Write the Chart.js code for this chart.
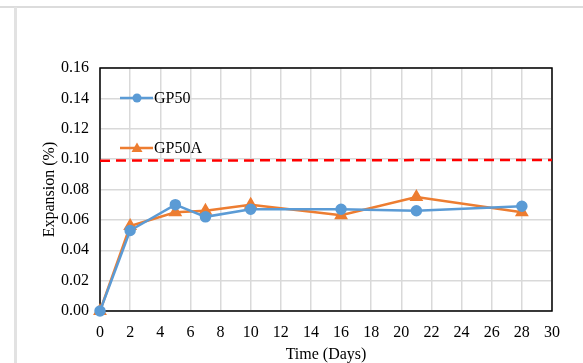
<!DOCTYPE html>
<html>
<head>
<title>Expansion</title>
<script src="https://cdn.jsdelivr.net/npm/chart.js"></script>
<style>
  body { margin: 0; background: #fff; }
  #wrap { position: relative; width: 583px; height: 363px; }
  .hline { position: absolute; left: 0; top: 6px; width: 583px; height: 2px; background: #dcdcdc; }
  .vline { position: absolute; left: 14px; top: 7px; width: 3px; height: 356px; background: #e2e2e2; }
  canvas { position: absolute; left: 0; top: 0; }
</style>
</head>
<body>
<div id="wrap">
  <div class="hline"></div>
  <div class="vline"></div>
  <canvas id="chart" width="583" height="363"></canvas>
</div>
<script>
  const days = [0, 2, 5, 7, 10, 16, 21, 28];
  const gp50 = [0, 0.053, 0.070, 0.062, 0.067, 0.067, 0.066, 0.069];
  const gp50a = [0, 0.056, 0.065, 0.066, 0.070, 0.063, 0.075, 0.065];
  const limitX = [0, 30];
  const limitY = [0.099, 0.0995];

  const BLUE = '#5B9BD5';
  const ORANGE = '#ED7D31';
  const FONT = "'Liberation Serif', 'Times New Roman', serif";

  const toPoints = (xs, ys) => xs.map((x, i) => ({ x: x, y: ys[i] }));

  // legend drawn inside the plot, like the original
  const innerLegend = {
    id: 'innerLegend',
    afterDatasetsDraw(chart) {
      const ctx = chart.ctx;
      const items = [
        { ds: chart.data.datasets[0], y: 98 },
        { ds: chart.data.datasets[1], y: 148 }
      ];
      ctx.save();
      items.forEach(it => {
        ctx.strokeStyle = it.ds.borderColor;
        ctx.lineWidth = 2.5;
        ctx.beginPath();
        ctx.moveTo(120, it.y);
        ctx.lineTo(153, it.y);
        ctx.stroke();
        ctx.fillStyle = it.ds.backgroundColor;
        ctx.beginPath();
        if (it.ds.pointStyle === 'triangle') {
          ctx.moveTo(137, it.y - 5.5);
          ctx.lineTo(142.5, it.y + 4);
          ctx.lineTo(131.5, it.y + 4);
          ctx.closePath();
        } else {
          ctx.arc(137, it.y, 4.5, 0, Math.PI * 2);
        }
        ctx.fill();
        ctx.fillStyle = '#000';
        ctx.font = '16px ' + FONT;
        ctx.textBaseline = 'middle';
        ctx.fillText(it.ds.label, 154, it.y + 1);
      });
      ctx.restore();
    }
  };

  // black frame around the plot area
  const frame = {
    id: 'frame',
    beforeDatasetsDraw(chart) {
      const a = chart.chartArea;
      const ctx = chart.ctx;
      ctx.save();
      ctx.strokeStyle = '#000';
      ctx.lineWidth = 1.5;
      ctx.strokeRect(a.left, a.top, a.right - a.left, a.bottom - a.top);
      ctx.restore();
    }
  };

  new Chart(document.getElementById('chart'), {
    type: 'line',
    data: {
      datasets: [
        {
          label: 'GP50',
          data: toPoints(days, gp50),
          borderColor: BLUE,
          backgroundColor: BLUE,
          borderWidth: 2.5,
          pointRadius: 4.5,
          pointStyle: 'circle',
          tension: 0,
          clip: false
        },
        {
          label: 'GP50A',
          data: toPoints(days, gp50a),
          borderColor: ORANGE,
          backgroundColor: ORANGE,
          borderWidth: 2.5,
          pointRadius: 5.5,
          pointStyle: 'triangle',
          tension: 0,
          clip: false
        },
        {
          label: 'limit',
          data: toPoints(limitX, limitY),
          borderColor: '#FF0000',
          borderWidth: 2.5,
          borderDash: [10, 6],
          pointRadius: 0,
          tension: 0
        }
      ]
    },
    options: {
      responsive: false,
      animation: false,
      layout: { padding: { left: 36, right: 31, top: 68, bottom: 0 } },
      plugins: {
        legend: { display: false },
        tooltip: { enabled: false }
      },
      scales: {
        x: {
          type: 'linear',
          min: 0,
          max: 30,
          ticks: { stepSize: 2, color: '#000', font: { family: FONT, size: 16 }, padding: 12 },
          grid: { color: '#d9d9d9', lineWidth: 1.5, drawTicks: false },
          border: { display: false },
          title: { display: true, text: 'Time (Days)', color: '#000', font: { family: FONT, size: 16 }, padding: { top: 4, bottom: -1 } },
          afterFit(s) { s.height = 52; }
        },
        y: {
          min: 0,
          max: 0.16,
          ticks: {
            stepSize: 0.02,
            color: '#000',
            font: { family: FONT, size: 16 },
            padding: 11,
            callback: v => v.toFixed(2)
          },
          grid: { color: '#d9d9d9', lineWidth: 1.5, drawTicks: false },
          border: { display: false },
          title: { display: true, text: 'Expansion (%)', color: '#000', font: { family: FONT, size: 16 } },
          afterFit(s) { s.width = 64; }
        }
      }
    },
    plugins: [innerLegend, frame]
  });
</script>
</body>
</html>
